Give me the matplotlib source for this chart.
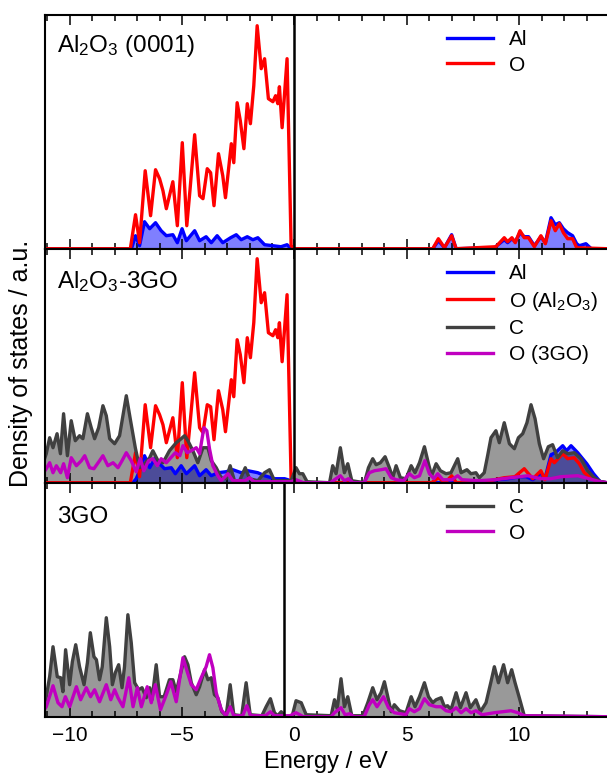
"""Projected density of states for Al2O3 (0001), Al2O3-3GO and 3GO."""

import matplotlib
matplotlib.use('Agg')
import matplotlib.pyplot as plt
from matplotlib.ticker import MultipleLocator

plt.rcParams['font.family'] = ['Liberation Sans', 'DejaVu Sans']
plt.rcParams['mathtext.default'] = 'regular'
plt.rcParams['lines.solid_joinstyle'] = 'round'

# panel 1: Al2O3 (0001)
al1_e = [-11.1, -7.25, -7.07, -6.89, -6.67, -6.44, -6.18, -5.93, -5.7, -5.41,
         -5.21, -5.0, -4.81, -4.44, -4.22, -3.93, -3.7, -3.44, -3.19, -2.84,
         -2.59, -2.37, -2.1, -1.85, -1.63, -1.33, -0.96, -0.6, -0.33, -0.15,
         6.15, 6.4, 6.67, 6.99, 7.19, 8.9, 9.0, 9.33, 9.48, 9.67,
         9.82, 10.03, 10.22, 10.41, 10.67, 10.96, 11.16, 11.41, 11.6, 11.78,
         11.96, 12.15, 12.37, 12.55, 12.67, 12.96, 13.2, 13.9]
al1_dos = [0, 0, 13, 3, 27, 20, 26, 18, 13, 14,
           6, 20, 8, 18, 8, 12, 6, 13, 6, 11,
           14, 9, 12, 9, 11, 4, 3, 2, 4, 0,
           0, 8, 1, 14, 0, 1, 3, 9, 6, 10,
           7, 16, 12, 12, 3, 12, 6, 31, 24, 26,
           20, 16, 13, 5, 3, 5, 0, 0]
o1_e = [-11.1, -7.3, -7.07, -6.89, -6.64, -6.4, -6.18, -6.0, -5.85, -5.7,
        -5.41, -5.21, -4.99, -4.79, -4.65, -4.44, -4.22, -4.07, -3.88, -3.73,
        -3.58, -3.38, -3.19, -3.07, -2.81, -2.7, -2.55, -2.41, -2.25, -2.1,
        -1.96, -1.81, -1.66, -1.48, -1.33, -1.16, -0.96, -0.84, -0.74, -0.67,
        -0.55, -0.33, -0.15, 0.0, 6.15, 6.4, 6.67, 6.99, 7.19, 8.07,
        8.96, 9.33, 9.48, 9.67, 9.82, 10.03, 10.22, 10.41, 10.67, 10.96,
        11.16, 11.41, 11.6, 11.78, 11.96, 12.15, 12.37, 12.55, 13.9]
o1_dos = [0, 0, 34, 6, 78, 33, 79, 70, 58, 40,
          67, 23, 106, 23, 58, 114, 53, 50, 80, 76,
          43, 95, 73, 51, 105, 86, 146, 128, 100, 145,
          125, 163, 223, 180, 190, 150, 147, 153, 145, 162,
          121, 190, 3, 0, 0, 10, 1, 13, 0, 1,
          2, 11, 7, 11, 6, 18, 11, 11, 2, 13,
          5, 28, 18, 25, 16, 10, 10, 1, 0]

# panel 2: Al2O3-3GO
al2_e = [-11.1, -7.19, -7.04, -6.89, -6.67, -6.44, -6.22, -6.0, -5.78, -5.48,
         -5.3, -5.04, -4.81, -4.44, -4.22, -3.93, -3.7, -3.41, -3.04, -2.74,
         -2.37, -2.07, -1.63, -1.33, -0.89, -0.44, -0.15, 0.0, 8.5, 9.0,
         9.5, 10.0, 10.3, 10.6, 10.96, 11.14, 11.41, 11.6, 11.93, 12.1,
         12.3, 12.6, 13.0, 13.3, 13.6, 13.9]
al2_dos = [0, 0, 4, 12, 27, 15, 24, 19, 14, 15,
           9, 17, 9, 17, 7, 13, 7, 10, 11, 13,
           10, 12, 10, 7, 4, 4, 2, 0, 0, 3,
           4, 6, 6, 3, 10, 4, 28, 30, 37, 32,
           37, 30, 19, 9, 1, 0]
o2_e = [-11.1, -7.3, -7.07, -6.89, -6.64, -6.4, -6.18, -6.0, -5.85, -5.7,
        -5.41, -5.21, -4.99, -4.79, -4.65, -4.44, -4.22, -4.07, -3.88, -3.73,
        -3.58, -3.38, -3.19, -3.07, -2.81, -2.7, -2.55, -2.41, -2.25, -2.1,
        -1.96, -1.81, -1.66, -1.48, -1.33, -1.16, -0.96, -0.84, -0.74, -0.67,
        -0.55, -0.33, -0.15, 0.0, 6.1, 6.4, 6.7, 6.99, 7.2, 8.5,
        8.9, 9.33, 9.8, 10.22, 10.37, 10.6, 10.96, 11.14, 11.41, 11.56,
        11.93, 12.15, 12.44, 12.67, 12.89, 13.19, 13.48, 13.9]
o2_dos = [0, 0, 30, 6, 78, 35, 77, 68, 58, 40,
          65, 25, 100, 25, 58, 110, 55, 50, 78, 76,
          43, 92, 73, 51, 103, 86, 143, 128, 100, 145,
          125, 160, 224, 180, 190, 150, 147, 153, 145, 160,
          121, 188, 3, 0, 0, 5, 0, 7, 0, 1,
          3, 5, 6, 14, 10, 4, 12, 3, 24, 20,
          29, 24, 25, 19, 10, 5, 1, 0]
c2_e = [-11.1, -11.04, -10.89, -10.74, -10.56, -10.41, -10.27, -10.1, -9.93, -9.75,
        -9.56, -9.41, -9.21, -9.04, -8.89, -8.71, -8.52, -8.37, -8.22, -8.0,
        -7.78, -7.48, -7.29, -7.08, -6.89, -6.67, -6.44, -6.3, -6.07, -5.85,
        -5.56, -5.26, -5.04, -4.89, -4.74, -4.52, -4.3, -4.07, -3.85, -3.7,
        -3.48, -3.26, -3.04, -2.86, -2.67, -2.44, -2.19, -2.0, -1.63, -1.33,
        -1.11, -0.89, -0.15, 0.07, 0.22, 0.37, 0.56, 1.56, 1.7, 1.85,
        2.04, 2.22, 2.37, 2.55, 3.11, 3.29, 3.48, 3.63, 3.82, 4.03,
        4.22, 4.37, 4.52, 4.71, 4.96, 5.19, 5.36, 5.56, 5.78, 5.96,
        6.1, 6.3, 6.49, 6.74, 6.96, 7.26, 7.41, 7.67, 7.85, 8.07,
        8.22, 8.44, 8.59, 8.74, 8.96, 9.11, 9.33, 9.56, 9.78, 9.96,
        10.15, 10.34, 10.52, 10.7, 10.89, 11.08, 11.29, 11.48, 11.7, 11.93,
        12.15, 12.44, 12.74, 13.04, 13.33, 13.63, 13.9]
c2_dos = [25, 29, 45, 35, 49, 29, 69, 27, 62, 42,
          47, 44, 69, 55, 44, 55, 77, 67, 44, 39,
          47, 87, 62, 35, 15, 19, 25, 32, 22, 20,
          32, 40, 44, 47, 42, 32, 20, 35, 35, 22,
          15, 5, 4, 17, 2, 2, 15, 4, 2, 10,
          13, 2, 2, 15, 9, 9, 1, 0, 17, 9,
          35, 10, 19, 2, 0, 15, 24, 18, 20, 26,
          15, 5, 17, 5, 4, 17, 10, 20, 36, 19,
          7, 19, 12, 9, 10, 24, 10, 13, 9, 10,
          5, 10, 27, 45, 52, 40, 60, 39, 34, 45,
          49, 60, 78, 64, 39, 24, 36, 38, 25, 32,
          29, 30, 24, 12, 5, 1, 0]
m2_e = [-11.1, -11.04, -10.89, -10.74, -10.59, -10.4, -10.27, -10.1, -9.93, -9.7,
        -9.48, -9.33, -9.11, -8.92, -8.67, -8.52, -8.3, -8.07, -7.85, -7.67,
        -7.48, -7.26, -7.04, -6.86, -6.7, -6.49, -6.3, -6.1, -5.93, -5.7,
        -5.5, -5.3, -5.1, -4.96, -4.77, -4.59, -4.37, -4.22, -4.03, -3.9,
        -3.78, -3.63, -3.41, -3.26, -2.96, -2.74, -2.2, -2.0, -1.8, -0.15,
        0.07, 0.4, 1.6, 1.78, 2.04, 2.22, 2.4, 2.6, 3.1, 3.33,
        3.56, 3.85, 4.07, 4.3, 4.52, 4.85, 5.11, 5.33, 5.56, 5.8,
        6.0, 6.2, 6.37, 6.6, 7.0, 7.26, 7.45, 8.2, 8.89, 9.63,
        10.37, 10.96, 11.4, 11.85, 12.6, 13.1, 13.6, 13.9]
m2_dos = [12, 14, 20, 10, 17, 10, 19, 5, 25, 17,
          22, 27, 15, 14, 22, 27, 17, 20, 15, 22,
          30, 22, 11, 24, 12, 22, 24, 17, 24, 20,
          25, 30, 27, 37, 30, 32, 35, 29, 55, 52,
          34, 17, 7, 2, 9, 2, 2, 5, 1, 1,
          3, 0, 0, 3, 7, 2, 4, 0, 0, 10,
          12, 13, 14, 5, 3, 2, 9, 5, 7, 22,
          9, 4, 9, 3, 3, 7, 3, 2, 3, 5,
          7, 4, 4, 6, 7, 4, 1, 0]

# panel 3: 3GO
c3_e = [-11.1, -11.04, -10.89, -10.74, -10.55, -10.4, -10.3, -10.18, -10.0, -9.88,
        -9.73, -9.56, -9.36, -9.21, -9.08, -8.92, -8.81, -8.67, -8.55, -8.37,
        -8.22, -8.1, -7.97, -7.82, -7.67, -7.56, -7.41, -7.26, -7.11, -6.93,
        -6.78, -6.59, -6.44, -6.34, -6.15, -6.0, -5.8, -5.56, -5.41, -5.26,
        -5.11, -4.89, -4.74, -4.59, -4.37, -4.22, -4.0, -3.85, -3.7, -3.56,
        -3.41, -3.23, -3.04, -2.86, -2.7, -2.35, -2.15, -1.97, -1.45, -1.26,
        -1.07, -0.89, -0.75, -0.59, -0.4, -0.1, 0.07, 0.3, 0.52, 1.63,
        1.78, 1.9, 2.07, 2.22, 2.37, 2.55, 3.04, 3.26, 3.48, 3.67,
        3.85, 4.0, 4.18, 4.3, 4.44, 4.67, 4.96, 5.19, 5.36, 5.56,
        5.78, 5.96, 6.15, 6.3, 6.52, 6.67, 6.81, 6.96, 7.19, 7.38,
        7.63, 7.82, 8.07, 8.27, 8.52, 8.74, 8.89, 9.07, 9.3, 9.48,
        9.66, 9.81, 10.0, 10.22, 13.9]
c3_dos = [15, 20, 40, 70, 40, 39, 25, 67, 32, 55,
          72, 50, 32, 54, 84, 60, 57, 37, 50, 99,
          70, 32, 44, 52, 29, 50, 102, 74, 34, 27,
          29, 19, 29, 17, 52, 20, 20, 37, 37, 25,
          39, 60, 52, 34, 22, 30, 47, 37, 39, 22,
          19, 5, 1, 32, 2, 1, 34, 2, 1, 10,
          18, 4, 1, 5, 0, 1, 16, 14, 2, 1,
          17, 8, 38, 10, 20, 1, 1, 14, 29, 17,
          24, 35, 17, 5, 12, 6, 4, 20, 10, 20,
          34, 20, 14, 17, 19, 10, 11, 7, 24, 9,
          24, 9, 17, 5, 14, 35, 50, 34, 52, 34,
          47, 34, 19, 1, 0]
m3_e = [-11.1, -11.04, -10.74, -10.52, -10.34, -10.19, -10.0, -9.7, -9.51, -9.26,
        -9.07, -8.89, -8.67, -8.37, -8.17, -8.0, -7.85, -7.63, -7.37, -7.18,
        -6.99, -6.81, -6.55, -6.37, -6.19, -5.96, -5.7, -5.5, -5.26, -4.96,
        -4.77, -4.59, -4.37, -4.15, -3.93, -3.78, -3.63, -3.48, -3.26, -3.04,
        -2.86, -2.7, -2.3, -2.12, -1.95, -1.3, -1.07, -0.9, -0.2, 0.07,
        0.4, 1.63, 1.78, 2.07, 2.25, 2.45, 2.65, 3.1, 3.33, 3.48,
        3.67, 3.96, 4.18, 4.44, 4.96, 5.11, 5.33, 5.56, 5.78, 6.0,
        6.3, 6.52, 6.74, 6.96, 7.19, 7.41, 7.63, 7.85, 8.07, 8.34,
        8.89, 9.26, 9.63, 9.93, 10.22, 13.9]
m3_dos = [8, 10, 31, 14, 10, 20, 10, 30, 17, 29,
          20, 27, 15, 32, 17, 27, 19, 10, 39, 10,
          29, 10, 30, 14, 32, 7, 22, 35, 15, 59,
          45, 32, 27, 39, 50, 62, 49, 24, 7, 1,
          10, 1, 1, 11, 1, 1, 5, 1, 1, 4,
          0, 0, 4, 9, 2, 3, 0, 0, 12, 17,
          10, 20, 9, 4, 2, 8, 5, 8, 18, 12,
          10, 10, 6, 5, 9, 4, 8, 4, 6, 2,
          4, 5, 6, 4, 1, 0]

panel_titles = ['Al$_2$O$_3$ (0001)', 'Al$_2$O$_3$-3GO', '3GO']
fermi_levels = [0.0, 0.0, -0.47]

LW = 2.4
GREY = '#404040'
MAGENTA = '#c000c0'


def style_axis(ax, fermi, title, title_y):
    ax.axvline(fermi, color='k', lw=1.8, zorder=6)
    ax.set_xlim(-11.1, 13.9)
    ax.set_ylim(0, 234)
    ax.set_yticks([])
    ax.xaxis.set_major_locator(MultipleLocator(5))
    ax.xaxis.set_minor_locator(MultipleLocator(1))
    ax.tick_params(axis='x', which='both', direction='in', top=True, bottom=True,
                   labelsize=15, pad=7, width=1.1)
    ax.tick_params(axis='x', which='major', length=7)
    ax.tick_params(axis='x', which='minor', length=4)
    ax.spines['right'].set_visible(False)
    for side in ('left', 'top', 'bottom'):
        ax.spines[side].set_linewidth(1.5)
    ax.text(0.021, title_y, title, transform=ax.transAxes, fontsize=17.5,
            va='baseline', ha='left')
    ax.legend(loc='upper left', bbox_to_anchor=(0.715, 0.935), frameon=False,
              fontsize=15, handlelength=2.2, handletextpad=0.8,
              labelspacing=0.32, borderpad=0, borderaxespad=0)


fig, axes = plt.subplots(3, 1, sharex=True, figsize=(6.07, 7.74), dpi=100)
fig.subplots_adjust(left=0.074, right=1.0, top=0.981, bottom=0.074, hspace=0)

# Al2O3 (0001)
ax = axes[0]
ax.fill_between(al1_e, al1_dos, color='blue', alpha=0.5, lw=0)
ax.plot(al1_e, al1_dos, color='blue', lw=LW, label='Al')
ax.plot(o1_e, o1_dos, color='red', lw=LW, label='O')
style_axis(ax, fermi_levels[0], panel_titles[0], 0.84)

# Al2O3-3GO
ax = axes[1]
ax.fill_between(al2_e, al2_dos, color='blue', alpha=0.5, lw=0)
ax.fill_between(c2_e, c2_dos, color='black', alpha=0.4, lw=0)
ax.plot(al2_e, al2_dos, color='blue', lw=LW, label='Al')
ax.plot(o2_e, o2_dos, color='red', lw=LW, label='O (Al$_2$O$_3$)')
ax.plot(c2_e, c2_dos, color=GREY, lw=LW, label='C')
ax.plot(m2_e, m2_dos, color=MAGENTA, lw=LW, label='O (3GO)')
style_axis(ax, fermi_levels[1], panel_titles[1], 0.83)

# 3GO
ax = axes[2]
ax.fill_between(c3_e, c3_dos, color='black', alpha=0.4, lw=0)
ax.plot(c3_e, c3_dos, color=GREY, lw=LW, label='C')
ax.plot(m3_e, m3_dos, color=MAGENTA, lw=LW, label='O')
style_axis(ax, fermi_levels[2], panel_titles[2], 0.826)

fig.text(0.0346, 0.531, 'Density of states / a.u.', rotation=90,
         va='center', ha='center', fontsize=18)
fig.text(0.537, 0.008, 'Energy / eV', ha='center', va='baseline', fontsize=17)

fig.savefig('out.png', dpi=100)
